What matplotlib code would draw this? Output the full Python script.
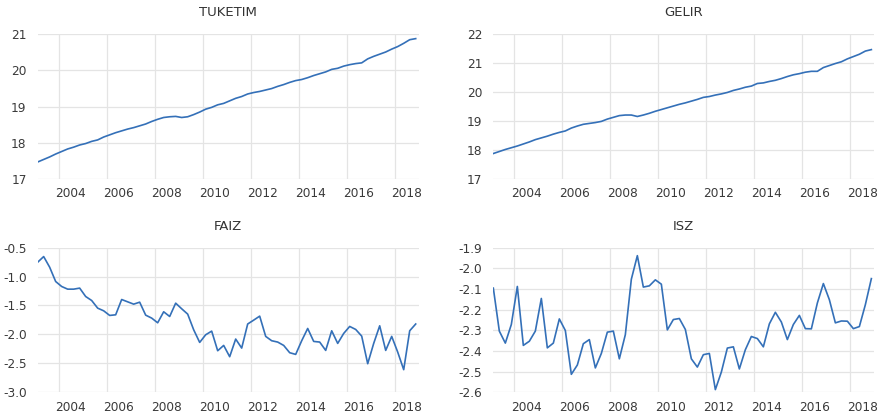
import numpy as np
import pandas as pd
from matplotlib import pyplot as plt
from matplotlib.ticker import FixedLocator, NullFormatter

# quarterly series, 2003Q1 - 2018Q4
start_period = '2003Q1'

tuketim = [17.47, 17.54, 17.61, 17.69, 17.76, 17.83, 17.88, 17.94, 17.98, 18.04,
           18.08, 18.16, 18.22, 18.28, 18.33, 18.38, 18.42, 18.47, 18.52, 18.59,
           18.65, 18.70, 18.72, 18.73, 18.70, 18.72, 18.78, 18.85, 18.93, 18.98,
           19.05, 19.09, 19.16, 19.23, 19.28, 19.35, 19.39, 19.42, 19.46, 19.50,
           19.56, 19.61, 19.67, 19.72, 19.75, 19.80, 19.86, 19.91, 19.96, 20.03,
           20.06, 20.12, 20.16, 20.19, 20.21, 20.32, 20.39, 20.45, 20.51, 20.59,
           20.66, 20.75, 20.85, 20.88]

gelir = [17.88, 17.95, 18.02, 18.08, 18.14, 18.21, 18.28, 18.36, 18.42, 18.48,
         18.55, 18.61, 18.66, 18.76, 18.83, 18.89, 18.92, 18.95, 18.99, 19.07,
         19.13, 19.19, 19.21, 19.21, 19.16, 19.21, 19.27, 19.34, 19.40, 19.46,
         19.52, 19.58, 19.63, 19.69, 19.75, 19.82, 19.85, 19.90, 19.94, 19.99,
         20.06, 20.11, 20.17, 20.21, 20.30, 20.32, 20.37, 20.41, 20.47, 20.54,
         20.60, 20.64, 20.69, 20.72, 20.72, 20.85, 20.92, 20.99, 21.05, 21.15,
         21.23, 21.31, 21.42, 21.47]

faiz = [-0.753, -0.655, -0.839, -1.086, -1.172, -1.218, -1.218, -1.200, -1.345, -1.414,
        -1.546, -1.592, -1.672, -1.661, -1.397, -1.437, -1.477, -1.443, -1.667, -1.718,
        -1.799, -1.609, -1.690, -1.460, -1.557, -1.649, -1.920, -2.138, -2.006, -1.943,
        -2.282, -2.190, -2.385, -2.080, -2.236, -1.820, -1.753, -1.684, -2.034, -2.109,
        -2.132, -2.190, -2.316, -2.345, -2.109, -1.897, -2.121, -2.132, -2.276, -1.937,
        -2.155, -1.983, -1.862, -1.914, -2.029, -2.506, -2.155, -1.851, -2.276, -2.034,
        -2.305, -2.609, -1.937, -1.820]

isz = [-2.096, -2.304, -2.362, -2.272, -2.088, -2.373, -2.353, -2.304, -2.146, -2.385,
       -2.362, -2.245, -2.301, -2.513, -2.468, -2.365, -2.345, -2.482, -2.412, -2.309,
       -2.304, -2.438, -2.321, -2.053, -1.939, -2.091, -2.085, -2.056, -2.077, -2.298,
       -2.248, -2.243, -2.296, -2.438, -2.478, -2.418, -2.412, -2.587, -2.502, -2.386,
       -2.380, -2.487, -2.394, -2.330, -2.340, -2.380, -2.269, -2.213, -2.260, -2.345,
       -2.272, -2.228, -2.292, -2.293, -2.168, -2.074, -2.152, -2.264, -2.255, -2.256,
       -2.292, -2.282, -2.176, -2.050]

titles = ['TUKETIM', 'GELIR', 'FAIZ', 'ISZ']
series = [tuketim, gelir, faiz, isz]
ylims = [(17, 21), (17, 22), (-3.0, -0.5), (-2.6, -1.9)]
ysteps = [1, 1, 0.5, 0.1]
yfmt = ['{:.0f}', '{:.0f}', '{:.1f}', '{:.1f}']
year_ticks = list(range(2004, 2019, 2))

periods = pd.period_range(start_period, periods=len(tuketim), freq='Q')
x = periods.year + (periods.quarter - 0.5) / 4.0

plt.rcParams['font.family'] = ['DejaVu Sans']
fig = plt.figure(figsize=(8.8, 4.13), dpi=100)

lefts = [0.0428, 0.5606]
bottoms = [0.5666, 0.0501]
w, h = 0.433, 0.3504

for k in range(4):
    ax = fig.add_axes([lefts[k % 2], bottoms[k // 2], w, h])
    ax.plot(x, series[k], color='#3470b8', lw=1.2)
    ax.set_xlim(x[0], 2019.0)
    lo, hi = ylims[k]
    ax.set_ylim(lo, hi)
    yt = np.round(np.arange(lo, hi + ysteps[k] / 2, ysteps[k]), 2)
    ax.set_yticks(yt)
    ax.set_yticklabels([yfmt[k].format(v) for v in yt])
    # gridlines at year start, labels centred on the year
    ax.xaxis.set_major_locator(FixedLocator(year_ticks))
    ax.xaxis.set_major_formatter(NullFormatter())
    ax.xaxis.set_minor_locator(FixedLocator([y + 0.5 for y in year_ticks]))
    ax.set_xticklabels([str(y) for y in year_ticks], minor=True)
    ax.grid(True, which='major', color='#e4e4e4', lw=0.9)
    ax.set_axisbelow(True)
    for s in ax.spines.values():
        s.set_visible(False)
    ax.tick_params(which='both', length=0, labelsize=8.7, colors='#3a3a3a')
    ax.tick_params(axis='x', which='minor', pad=6)
    ax.tick_params(axis='y', pad=8)
    ax.set_title(titles[k], fontsize=9.5, color='#333333', pad=13)

fig.savefig('out.png', dpi=100)
